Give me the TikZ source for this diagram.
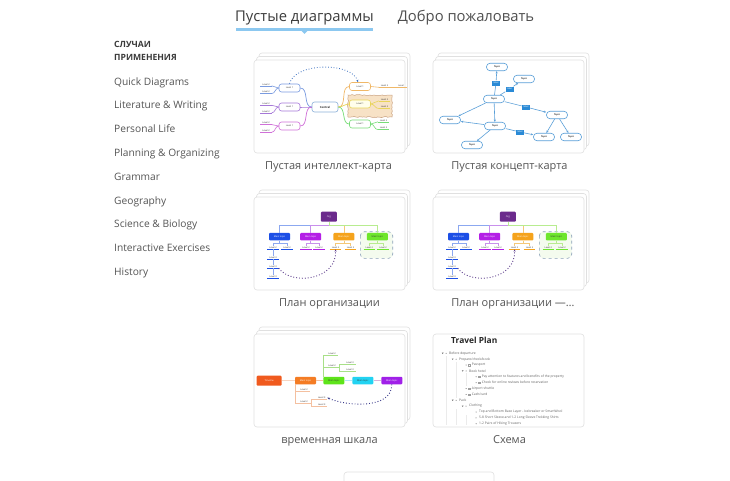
\documentclass[tikz,border=0pt]{standalone}
\usepackage{fontspec}
\setmainfont{Open Sans}
\usetikzlibrary{positioning,arrows.meta,decorations.pathmorphing}

\definecolor{tabblue}{HTML}{8CC8F0}
\definecolor{tabtext}{HTML}{3C3C3C}
\definecolor{tabgray}{HTML}{505050}
\definecolor{headgray}{HTML}{3A3A3A}
\definecolor{itemgray}{HTML}{555555}
\definecolor{cardgray}{HTML}{E0E0E0}
\definecolor{minitext}{HTML}{333333}
% mind map
\definecolor{mmcentral}{HTML}{8CB0D8}
\definecolor{mmblue}{HTML}{7A9BE0}
\definecolor{mmpurple}{HTML}{A678D8}
\definecolor{mmpink}{HTML}{D070D8}
\definecolor{mmorange}{HTML}{F0B868}
\definecolor{mmyellow}{HTML}{E8D45A}
\definecolor{mmgreen}{HTML}{78DC78}
\definecolor{mmbrown}{HTML}{C8A080}
\definecolor{mmpeach}{HTML}{F7E2C6}
\definecolor{mmdot}{HTML}{3A6FC0}
% concept map
\definecolor{cmline}{HTML}{5A9FD8}
\definecolor{cmlabel}{HTML}{2A8AD6}
% org chart
\definecolor{orgroot}{HTML}{6B2A8C}
\definecolor{orgblue}{HTML}{1C4FE6}
\definecolor{orgpurple}{HTML}{B41FE6}
\definecolor{orgorange}{HTML}{F5A31C}
\definecolor{orggreen}{HTML}{6EE62C}
\definecolor{lnblue}{HTML}{8CA8F0}
\definecolor{lnpurple}{HTML}{C890EC}
\definecolor{lnorange}{HTML}{F4C878}
\definecolor{lngreen}{HTML}{B8EC90}
\definecolor{orgbox}{HTML}{8AA0B8}
\definecolor{orgboxfill}{HTML}{F4FBEE}
\definecolor{orgdot}{HTML}{5A3A8A}
% timeline
\definecolor{tlroot}{HTML}{F05A1E}
\definecolor{tlorange}{HTML}{F47C24}
\definecolor{tlgreen}{HTML}{5EE41A}
\definecolor{tlcyan}{HTML}{22D3F2}
\definecolor{tlpurple}{HTML}{A020E8}
\definecolor{tlpeach}{HTML}{F4C0A0}
\definecolor{tllight}{HTML}{A8E088}
\definecolor{tldot}{HTML}{3A3A8A}
% outline
\definecolor{outgray}{HTML}{606060}
\definecolor{outbox}{HTML}{A0A0A0}
\definecolor{outguide}{HTML}{EBEBEB}

\begin{document}
\begin{tikzpicture}[x=1pt,y=-1pt,
  tab/.style={anchor=base, inner sep=0, font=\fontsize{14.8}{18}\selectfont},
  sidehead/.style={anchor=base west, inner sep=0, text=headgray, font=\fontsize{8.6}{10}\selectfont\bfseries},
  sideitem/.style={anchor=base west, inner sep=0, text=itemgray, font=\fontsize{10.2}{13}\selectfont},
  card/.style={draw=cardgray, fill=white, line width=0.6pt, rounded corners=3pt},
  cardlabel/.style={anchor=base, inner sep=0, text=itemgray, font=\fontsize{11}{13}\selectfont},
  tiny/.style={font=\fontsize{2.3}{2.8}\selectfont, text=minitext},
  mm/.style={tiny, draw=#1, line width=0.6pt, fill=white, rounded corners=2.5pt, minimum width=21, minimum height=8, inner sep=0},
  leaf/.style={tiny, inner sep=0.5pt, minimum width=11,
    append after command={(\tikzlastnode.south west) edge[draw=#1, line width=0.6pt] (\tikzlastnode.south east)}},
  topic/.style={tiny, font=\fontsize{2.3}{2.8}\selectfont\bfseries, draw=cmline, line width=0.6pt, fill=white, rounded corners=3.5pt, minimum width=21, minimum height=7.5, inner sep=0},
  link/.style={tiny, text=white, fill=cmlabel, minimum width=8, minimum height=5, inner sep=0},
  cmedge/.style={cmline, line width=0.6pt},
  cmarrow/.style={cmedge, -{Stealth[length=2.4pt,width=2pt]}},
  box/.style={tiny, text=white, fill=#1, rounded corners=1pt, minimum width=21, minimum height=7.5, inner sep=0},
  outtxt/.style={anchor=west, inner sep=0, text=outgray, font=\fontsize{3.3}{4}\selectfont}
]
\useasboundingbox (0,0) rectangle (730,480);
\fill[white] (0,0) rectangle (730,480);

% tabs
\node[tab, text=tabtext] (blank) at (304.5,21.7) {Пустые диаграммы};
\node[tab, text=tabgray] (welcome) at (466,21.7) {Добро пожаловать};
\draw[tabblue, line width=2.5pt] (236,29.3) -- (373,29.3);
\fill[tabblue] (300.5,30) -- (308.5,30) -- (304.5,33.8) -- cycle;

% sidebar
\node[sidehead] (head1) at (114,47.3) {СЛУЧАИ};
\node[sidehead] (head2) at (114,60.3) {ПРИМЕНЕНИЯ};
\foreach \name [count=\i] in {Quick Diagrams, Literature \& Writing, Personal Life, Planning \& Organizing, Grammar, Geography, Science \& Biology, Interactive Exercises, History}
  \node[sideitem] (item\i) at (114,{85+(\i-1)*23.8}) {\name};

% cards
\foreach \cx/\cy/\stack in {254/60/1, 433/60/1, 254/197/1, 433/197/1, 254/334/1, 433/334/0} {
  \ifnum\stack=1
    \draw[card] (\cx+5,\cy-7) rectangle ++(151,93);
    \draw[card] (\cx+2.5,\cy-3.5) rectangle ++(151,93);
  \fi
  \draw[card] (\cx,\cy) rectangle ++(151,93);
}
\node[cardlabel] (lab1) at (328.5,169) {Пустая интеллект-карта};
\node[cardlabel] (lab2) at (509.5,169) {Пустая концепт-карта};
\node[cardlabel] (lab3) at (329.5,306) {План организации};
\node[cardlabel] (lab4) at (513,306) {План организации —…};
\node[cardlabel] (lab5) at (329.5,443) {временная шкала};
\node[cardlabel] (lab6) at (509.5,443) {Схема};
\draw[cardgray, line width=0.6pt, rounded corners=3pt] (344,481) -- (344,472) -- (494,472) -- (494,481);

% mind map
\draw[draw=mmbrown, fill=mmpeach, line width=0.5pt, decorate, decoration={random steps, segment length=2pt, amplitude=0.6pt}] (348,95) rectangle (392,117);
\node[mm=mmcentral, minimum width=26, minimum height=10, font=\fontsize{2.8}{3.2}\selectfont\bfseries] (central) at (325,107) {Central};
\node[mm=mmblue] (l1a) at (289.5,88) {Level 1};
\node[mm=mmpurple] (l1b) at (289.5,107) {Level 1};
\node[mm=mmpink] (l1c) at (289.5,126) {Level 1};
\node[mm=mmorange] (r1a) at (360,86.5) {Level 1};
\node[mm=mmyellow, fill=yellow!8] (r1b) at (360,104) {Level 1};
\node[mm=mmgreen] (r1c) at (360,124) {Level 1};
\node[leaf=mmblue] (la1) at (266,84.3) {Level 2};
\node[leaf=mmblue] (la2) at (266,92) {Level 2};
\node[leaf=mmpurple] (lb1) at (266,103.7) {Level 2};
\node[leaf=mmpurple] (lb2) at (266,111.3) {Level 2};
\node[leaf=mmpink] (lc1) at (266,123) {Level 2};
\node[leaf=mmpink] (lc2) at (266,130.7) {Level 2};
\node[leaf=mmorange] (ra1) at (384.5,85.7) {Level 2};
\node[leaf=mmorange] (ra2) at (401,85.7) {Level};
\node[leaf=mmyellow] (rb1) at (384.5,99.3) {Level 2};
\node[leaf=mmyellow] (rb2) at (384.5,107) {Level 2};
\node[leaf=mmgreen] (rc1) at (383.5,120.3) {Level 2};
\node[leaf=mmgreen] (rc2) at (383.5,128) {Level 2};
\draw[mmblue, line width=0.7pt] (central.west) to[out=180,in=0] (l1a.east);
\draw[mmpurple, line width=0.7pt] (central.west) to[out=180,in=0] (l1b.east);
\draw[mmpink, line width=0.7pt] (central.west) to[out=180,in=0] (l1c.east);
\draw[mmorange, line width=0.7pt] (central.east) to[out=0,in=180] (r1a.west);
\draw[mmyellow, line width=0.7pt] (central.east) to[out=0,in=180] (r1b.west);
\draw[mmgreen, line width=0.7pt] (central.east) to[out=0,in=180] (r1c.west);
\draw[mmblue, line width=0.6pt] (l1a.west) to[out=180,in=0] (la1.south east);
\draw[mmblue, line width=0.6pt] (l1a.west) to[out=180,in=0] (la2.south east);
\draw[mmpurple, line width=0.6pt] (l1b.west) to[out=180,in=0] (lb1.south east);
\draw[mmpurple, line width=0.6pt] (l1b.west) to[out=180,in=0] (lb2.south east);
\draw[mmpink, line width=0.6pt] (l1c.west) to[out=180,in=0] (lc1.south east);
\draw[mmpink, line width=0.6pt] (l1c.west) to[out=180,in=0] (lc2.south east);
\draw[mmorange, line width=0.6pt] (r1a.east) -- (ra1.south west);
\draw[mmorange, line width=0.6pt] (ra1.south east) -- (ra2.south west);
\draw[mmyellow, line width=0.6pt] (r1b.east) to[out=0,in=180] (rb1.south west);
\draw[mmyellow, line width=0.6pt] (r1b.east) to[out=0,in=180] (rb2.south west);
\draw[mmgreen, line width=0.6pt] (r1c.east) to[out=0,in=180] (rc1.south west);
\draw[mmgreen, line width=0.6pt] (r1c.east) to[out=0,in=180] (rc2.south west);
\draw[mmdot, dotted, line width=0.8pt, -{Stealth[length=2.4pt,width=2pt]}] (l1a.north) .. controls (295,62) and (352,62) .. ([xshift=-2pt]r1a.north);

% concept map
\node[topic] (t1) at (497,67) {Topic};
\node[topic] (t2) at (524,79) {Topic};
\node[topic] (t3) at (494,99) {Topic};
\node[topic] (t4) at (450,120) {Topic};
\node[topic] (t5) at (495,126) {Topic};
\node[topic] (t6) at (557,115) {Topic};
\node[topic] (t7) at (472,145) {Topic};
\node[topic] (t8) at (544,137) {Topic};
\node[topic] (t9) at (571,137) {Topic};
\node[link] (k1) at (496,83) {label};
\node[link] (k2) at (509.5,89) {label};
\node[link] (k3) at (526,107) {label};
\node[link] (k4) at (520,132) {label};
\draw[cmedge] (t3) -- (k1);
\draw[cmarrow] (k1) -- (t1);
\draw[cmedge] (t3) -- (k2);
\draw[cmarrow] (k2) -- (t2);
\draw[cmedge] (t3) -- (k3);
\draw[cmarrow] (k3) -- (t6);
\draw[cmarrow] (t3) -- (t5);
\draw[cmarrow] (t3) -- (t4);
\draw[cmarrow] (t5) -- (t4);
\draw[cmarrow] (t5) -- (t7);
\draw[cmedge] (t5) -- (k4);
\draw[cmarrow] (k4) -- (t8);
\draw[cmarrow] (t6) -- (t8);
\draw[cmarrow] (t6) -- (t9);

% org charts
\foreach \dx/\s in {0/a, 179/b} {
  \begin{scope}[xshift=\dx pt]
    \draw[orgbox, fill=orgboxfill, dashed, line width=0.6pt, rounded corners=4pt] (360.3,231.7) rectangle (392.7,258.3);
    \node[box=orgroot, minimum width=16, minimum height=10] (org\s) at (328.8,216.7) {Org};
    \node[box=orgblue] (ma\s) at (279.5,236.7) {Main topic};
    \node[box=orgpurple] (mb\s) at (310.7,236.7) {Main topic};
    \node[box=orgorange] (mc\s) at (343.8,236.7) {Main topic};
    \node[box=orggreen, text=minitext] (md\s) at (377.3,236.7) {Main topic};
    \draw[lnblue, line width=0.6pt] (org\s.south) -- ++(0,3) -| (ma\s.north);
    \draw[lnpurple, line width=0.6pt] (org\s.south) -- ++(0,3) -| (mb\s.north);
    \draw[lnorange, line width=0.6pt] (org\s.south) -- ++(0,3) -| (mc\s.north);
    \draw[lngreen, line width=0.6pt] (org\s.south) -- ++(0,3) -| (md\s.north);
    \node[leaf=orgblue] (ma1\s) at (273,247.7) {Level 2};
    \node[leaf=orgblue] (ma2\s) at (287,247.7) {Level 2};
    \node[leaf=orgpurple] (mb1\s) at (306,247.7) {Level 2};
    \node[leaf=orgpurple] (mb2\s) at (319,247.7) {Level 2};
    \node[leaf=orgorange] (mc1\s) at (335.5,247.7) {Level 2};
    \node[leaf=orgorange] (mc2\s) at (350.5,247.7) {Level 2};
    \node[leaf=orggreen] (md1\s) at (369.3,247.7) {Level 2};
    \node[leaf=orggreen] (md2\s) at (383,247.7) {Level 2};
    \node[leaf=orgblue] (c1\s) at (273,257.3) {Level 3};
    \node[leaf=orgblue] (c2\s) at (273,266.7) {Level 3};
    \node[leaf=orgblue] (c3\s) at (273,276.7) {Level 3};
    \foreach \m/\col in {a/lnblue, b/lnpurple, c/lnorange, d/lngreen} {
      \draw[\col, line width=0.5pt] (m\m\s.south) -- ++(0,2.5) -| (m\m1\s.north);
      \draw[\col, line width=0.5pt] (m\m\s.south) -- ++(0,2.5) -| (m\m2\s.north);
    }
    \draw[lnblue, line width=0.5pt] (ma1\s.south) -- (c1\s.north);
    \draw[lnblue, line width=0.5pt] (c1\s.south) -- (c2\s.north);
    \draw[lnblue, line width=0.5pt] (c2\s.south) -- (c3\s.north);
    \draw[orgdot, dotted, line width=0.9pt, -{Stealth[length=2.4pt,width=2pt]}] (c2\s.south east) .. controls (292,286) and (337,280) .. (mc1\s.south);
  \end{scope}
}

% timeline
\node[box=tlroot, minimum width=25, minimum height=10] (tl) at (269.2,380.7) {Timeline};
\node[box=tlorange] (tm1) at (305.5,380.5) {Main topic};
\node[box=tlgreen, text=minitext] (tm2) at (333.8,380.5) {Main topic};
\node[box=tlcyan, text=minitext] (tm3) at (362.8,380.5) {Main topic};
\node[box=tlpurple] (tm4) at (391.8,380.5) {Main topic};
\draw[tlpeach, line width=0.6pt] (tl) -- (tm1);
\draw[tlpeach, line width=0.6pt] (tm1) -- (tm2);
\draw[cyan!30, line width=0.6pt] (tm2) -- (tm3);
\draw[violet!30, line width=0.6pt] (tm3) -- (tm4);
\node[leaf=tllight] (up1) at (332,354) {Level 2};
\node[leaf=tllight] (up2) at (332,366) {Level 2};
\node[leaf=tllight] (up3) at (350,362.3) {Level 3};
\node[leaf=tllight] (up4) at (350,369.3) {Level 3};
\draw[tllight, line width=0.5pt] ([xshift=0.5pt]tm2.north west) |- (up1.south west);
\draw[tllight, line width=0.5pt] ([xshift=0.5pt]tm2.north west) |- (up2.south west);
\draw[tllight, line width=0.5pt] (up2.south east) -- ++(1.5,0) |- (up3.south west);
\draw[tllight, line width=0.5pt] (up2.south east) -- ++(1.5,0) |- (up4.south west);
\node[leaf=tlpeach] (dn1) at (304,390) {Level 2};
\node[leaf=tlpeach] (dn2) at (304,401.7) {Level 2};
\node[leaf=tlpeach] (dn3) at (321.7,397.7) {Level 3};
\node[leaf=tlpeach] (dn4) at (321.7,405) {Level 3};
\draw[tlpeach, line width=0.5pt] ([xshift=0.5pt]tm1.south west) |- (dn1.south west);
\draw[tlpeach, line width=0.5pt] ([xshift=0.5pt]tm1.south west) |- (dn2.south west);
\draw[tlpeach, line width=0.5pt] (dn2.south east) -- ++(1.5,0) |- (dn3.south west);
\draw[tlpeach, line width=0.5pt] (dn2.south east) -- ++(1.5,0) |- (dn4.south west);
\draw[tldot, dotted, line width=0.9pt, -{Stealth[length=2.4pt,width=2pt]}] (tm4.south) .. controls (392,410) and (345,406) .. (dn3.east);

% outline
\node[anchor=west, inner sep=0, text=black!85, font=\fontsize{8.4}{10}\selectfont\bfseries] (title) at (451,340.7) {Travel Plan};
\draw[outguide, line width=0.4pt] (446,356) -- (446,425);
\draw[outguide, line width=0.4pt] (456,362) -- (456,398);
\draw[outguide, line width=0.4pt] (456,409) -- (456,425);
\draw[outguide, line width=0.4pt] (466,373) -- (466,386);
\draw[outguide, line width=0.4pt] (466,415) -- (466,425);
\foreach \lv/\kind/\txt [count=\i] in {0/t/{Before departure}, 1/t/{Prepare/check/book}, 2/c/{Passport}, 2/t/{Book hotel}, 3/c/{Pay attention to features and benefits of the property}, 3/c/{Check for online reviews before reservation}, 2/c/{Airport shuttle}, 2/c/{Cash/card}, 1/t/{Pack}, 2/t/{Clothing}, 3/p/{Top and Bottom Base Layer - Icebreaker or SmartWool}, 3/p/{5-8 Short Sleeve and 1-2 Long Sleeve Trekking Shirts}, 3/p/{1-2 Pairs of Hiking Trousers}} {
  \pgfmathsetmacro\ry{353.3+(\i-1)*5.87}
  \pgfmathsetmacro\rx{442.7+10*\lv}
  \if\kind t
    \fill[outgray] (\rx-0.9,\ry-0.6) -- (\rx+0.9,\ry-0.6) -- (\rx,\ry+0.7) -- cycle;
  \fi
  \fill[outgray] (\rx+3.4,\ry) circle (0.5);
  \if\kind c
    \draw[outbox, line width=0.2pt] (\rx+5.8,\ry-0.75) rectangle ++(1.5,1.5);
    \node[outtxt] (row\i) at (\rx+9,\ry) {\txt};
  \else
    \node[outtxt] (row\i) at (\rx+6.3,\ry) {\txt};
  \fi
}
\end{tikzpicture}
\end{document}
